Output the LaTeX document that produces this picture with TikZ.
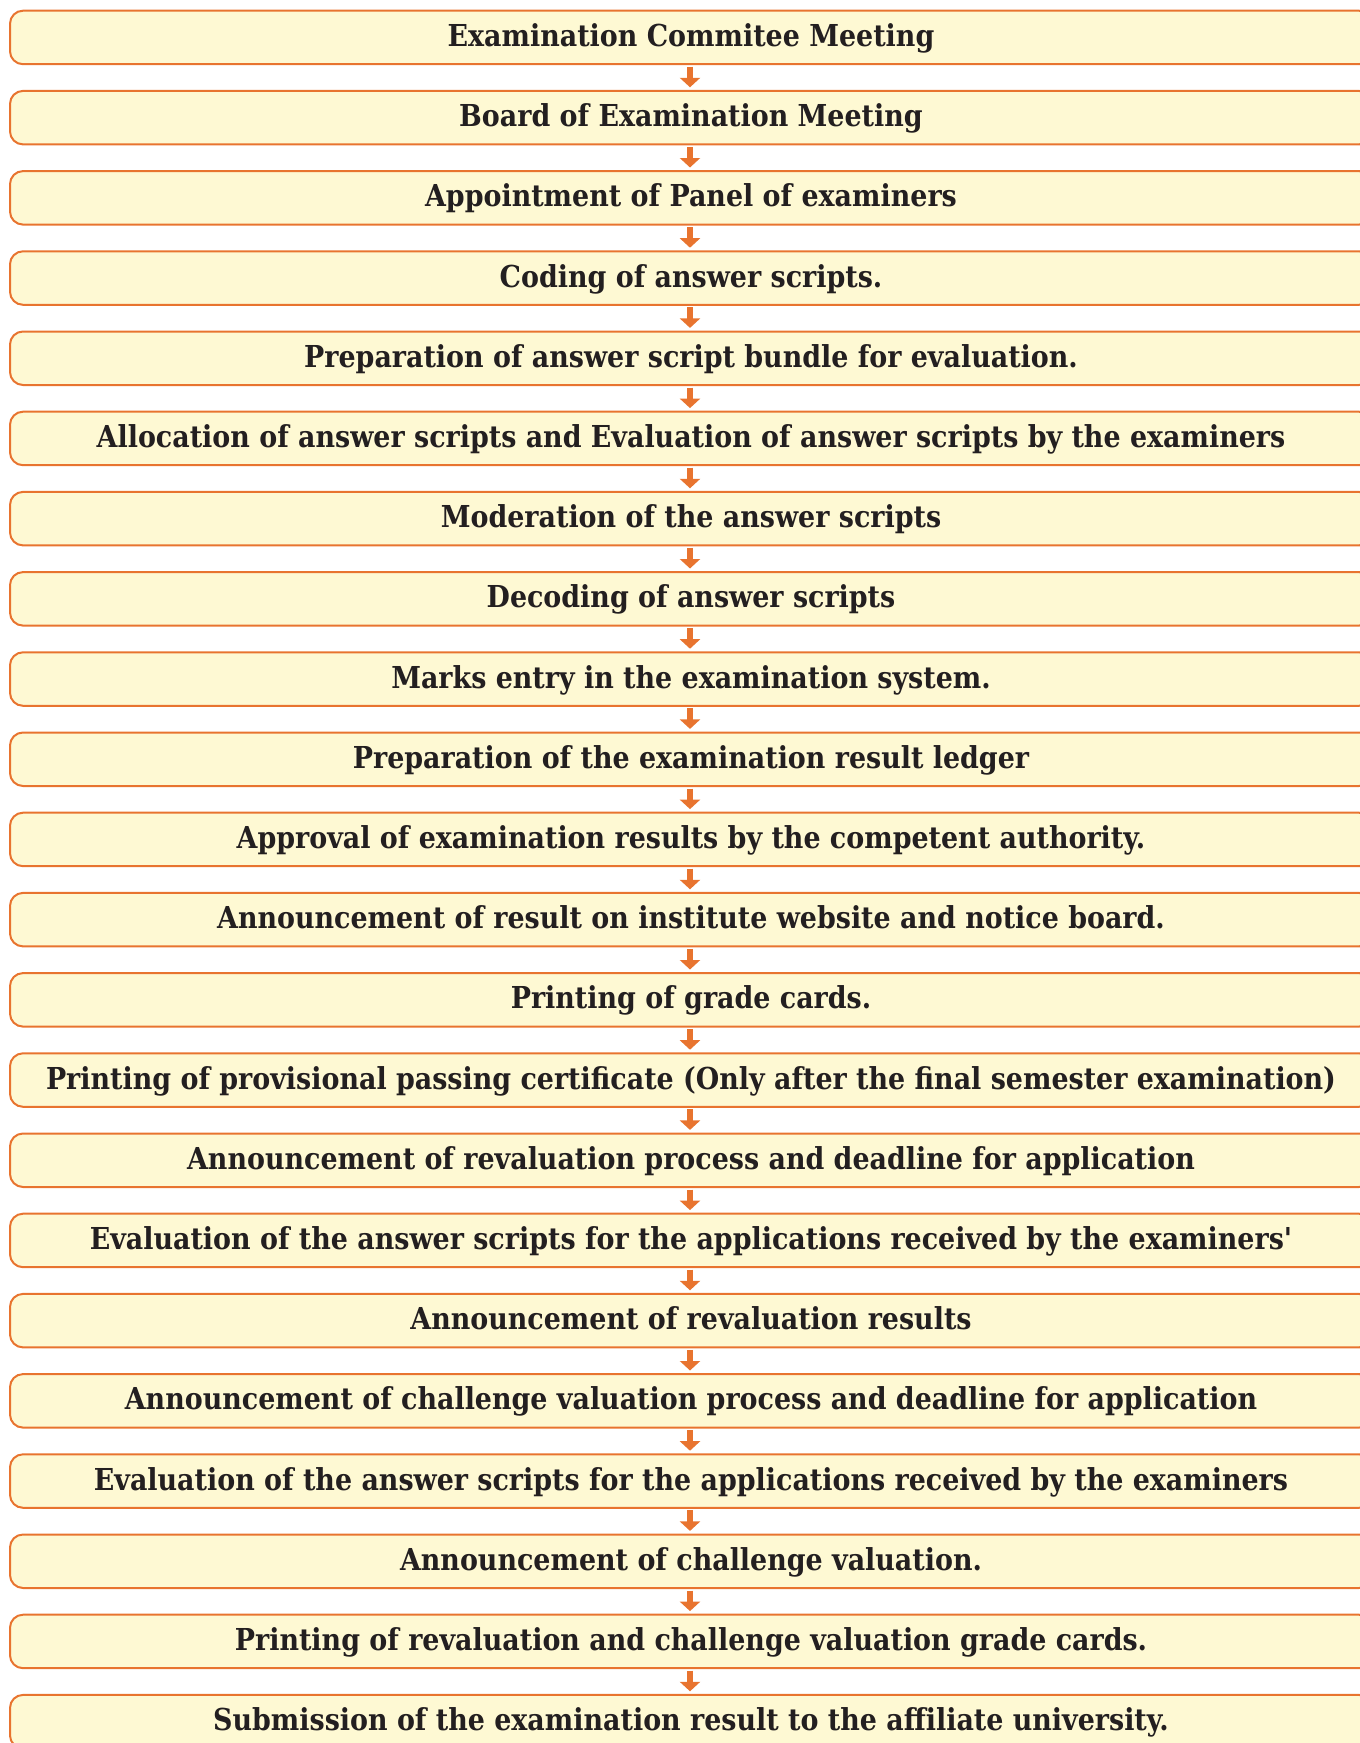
\documentclass[tikz,border=0pt]{standalone}
\usepackage{fontspec}
% straight quotes stay straight: no TeX-style quote mapping
\setmainfont{DejaVu Serif}[Ligatures=TeXOff]
\usetikzlibrary{arrows.meta}
\definecolor{edge}{HTML}{E8742F}
\definecolor{paper}{HTML}{FEF9D3}
\definecolor{ink}{HTML}{231F20}
% one slab-serif size for every step, squeezed so the longest line fits
\newcommand\stepfont{\fontsize{30.2}{36}\selectfont\bfseries}
\newlength\widestline
\settowidth\widestline{\stepfont Printing of provisional passing certificate (Only after the final semester examination)}
\pgfmathsetmacro\squeeze{1290/\widestline}
\newcommand\steptext[1]{\scalebox{\squeeze}[1]{#1}}
\tikzset{
  stepbox/.style={draw=edge, fill=paper, line width=2pt, rounded corners=13pt,
    minimum width=1362pt, minimum height=53.5pt, inner sep=0pt, outer sep=0pt,
    text=ink, font=\stepfont, text height=22pt, text depth=4pt},
  flow/.style={draw=edge, line width=6.5pt,
    -{Triangle[width=20pt,length=9.5pt]}},
}
\begin{document}
\begin{tikzpicture}[x=1pt,y=-1pt]
\useasboundingbox (0,0) rectangle (1360,1743);
\clip (0,0) rectangle (1360,1743);
\foreach \t [count=\i] in {
  Examination Commitee Meeting,
  Board of Examination Meeting,
  Appointment of Panel of examiners,
  Coding of answer scripts.,
  Preparation of answer script bundle for evaluation.,
  Allocation of answer scripts and Evaluation of answer scripts by the examiners,
  Moderation of the answer scripts,
  Decoding of answer scripts,
  Marks entry in the examination system.,
  Preparation of the examination result ledger,
  Approval of examination results by the competent authority.,
  Announcement of result on institute website and notice board.,
  Printing of grade cards.,
  Printing of provisional passing certificate (Only after the final semester examination),
  Announcement of revaluation process and deadline for application,
  Evaluation of the answer scripts for the applications received by the examiners',
  Announcement of revaluation results,
  Announcement of challenge valuation process and deadline for application,
  Evaluation of the answer scripts for the applications received by the examiners,
  Announcement of challenge valuation.,
  Printing of revaluation and challenge valuation grade cards.,
  Submission of the examination result to the affiliate university.}
{
  \node[stepbox] (s\i) at (691, {37.45+80.2*(\i-1)}) {\steptext{\t}};
}
\foreach \i [evaluate=\i as \j using int(\i+1)] in {1,...,21}
{
  \draw[flow] ([xshift=-1pt,yshift=-2.5pt]s\i.south) -- ([xshift=-1pt,yshift=3.6pt]s\j.north);
}
\end{tikzpicture}
\end{document}
